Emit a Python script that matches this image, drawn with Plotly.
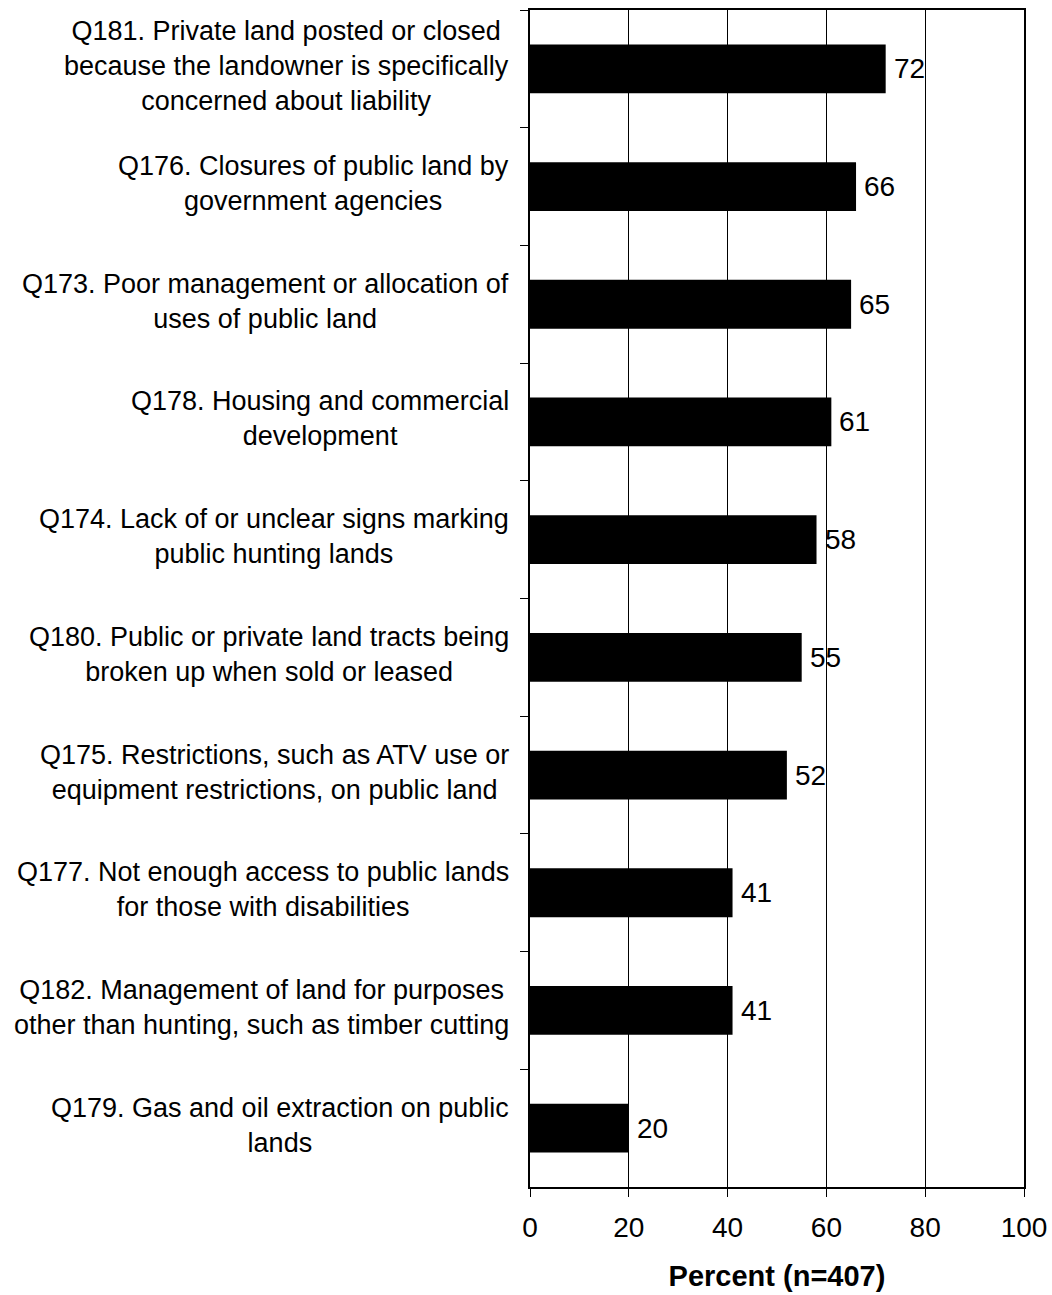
import plotly.graph_objects as go

labels = [
    "Q181. Private land posted or closed<br>because the landowner is specifically<br>concerned about liability",
    "Q176. Closures of public land by<br>government agencies",
    "Q173. Poor management or allocation of<br>uses of public land",
    "Q178. Housing and commercial<br>development",
    "Q174. Lack of or unclear signs marking<br>public hunting lands",
    "Q180. Public or private land tracts being<br>broken up when sold or leased",
    "Q175. Restrictions, such as ATV use or<br>equipment restrictions, on public land",
    "Q177. Not enough access to public lands<br>for those with disabilities",
    "Q182. Management of land for purposes<br>other than hunting, such as timber cutting",
    "Q179. Gas and oil extraction on public<br>lands",
]
codes = ["Q181", "Q176", "Q173", "Q178", "Q174", "Q180", "Q175", "Q177", "Q182", "Q179"]
values = [72, 66, 65, 61, 58, 55, 52, 41, 41, 20]
x_ticks = [0, 20, 40, 60, 80, 100]
x_title = "Percent (n=407)"

FONT = "Liberation Sans, Arial, sans-serif"

fig = go.Figure(go.Bar(
    x=values, y=codes, orientation="h",
    marker=dict(color="black", line=dict(width=0)),
    width=0.415, hoverinfo="x+y",
))

annotations = []
for c, lab in zip(codes, labels):
    annotations.append(dict(
        x=0, xref="paper", y=c, yref="y", text=lab, showarrow=False,
        xanchor="right", yanchor="middle", align="center", xshift=-19, yshift=3,
        font=dict(family=FONT, size=27, color="black"),
    ))
for c, v in zip(codes, values):
    annotations.append(dict(
        x=v, xref="x", y=c, yref="y", text=str(v), showarrow=False,
        xanchor="left", yanchor="middle", xshift=6,
        font=dict(family=FONT, size=28, color="black"),
    ))

fig.update_layout(
    width=1052, height=1295, autosize=False,
    margin=dict(l=530, r=28, t=10, b=108, autoexpand=False),
    plot_bgcolor="white", paper_bgcolor="white",
    showlegend=False,
    font=dict(family=FONT, size=28, color="black"),
    annotations=annotations,
    xaxis=dict(
        range=[0, 100], tickvals=x_ticks, ticks="outside", ticklen=8, tickcolor="black",
        showline=True, linecolor="black", linewidth=2, mirror=True,
        showgrid=True, gridcolor="black", gridwidth=1, zeroline=False,
        automargin=False, ticklabelstandoff=6,
        tickfont=dict(family=FONT, size=28, color="black"),
        title=dict(text="<b>" + x_title + "</b>", font=dict(family=FONT, size=29, color="black"), standoff=24),
    ),
    yaxis=dict(
        categoryorder="array", categoryarray=codes, autorange="reversed",
        showticklabels=False, ticks="outside", ticklen=8, tickcolor="black",
        tickson="boundaries", automargin=False,
        showline=True, linecolor="black", linewidth=2, mirror=True,
        showgrid=False, zeroline=False,
    ),
)

fig.write_html("out.html", config={"displayModeBar": False},
               post_script="document.body.style.margin='0';")
